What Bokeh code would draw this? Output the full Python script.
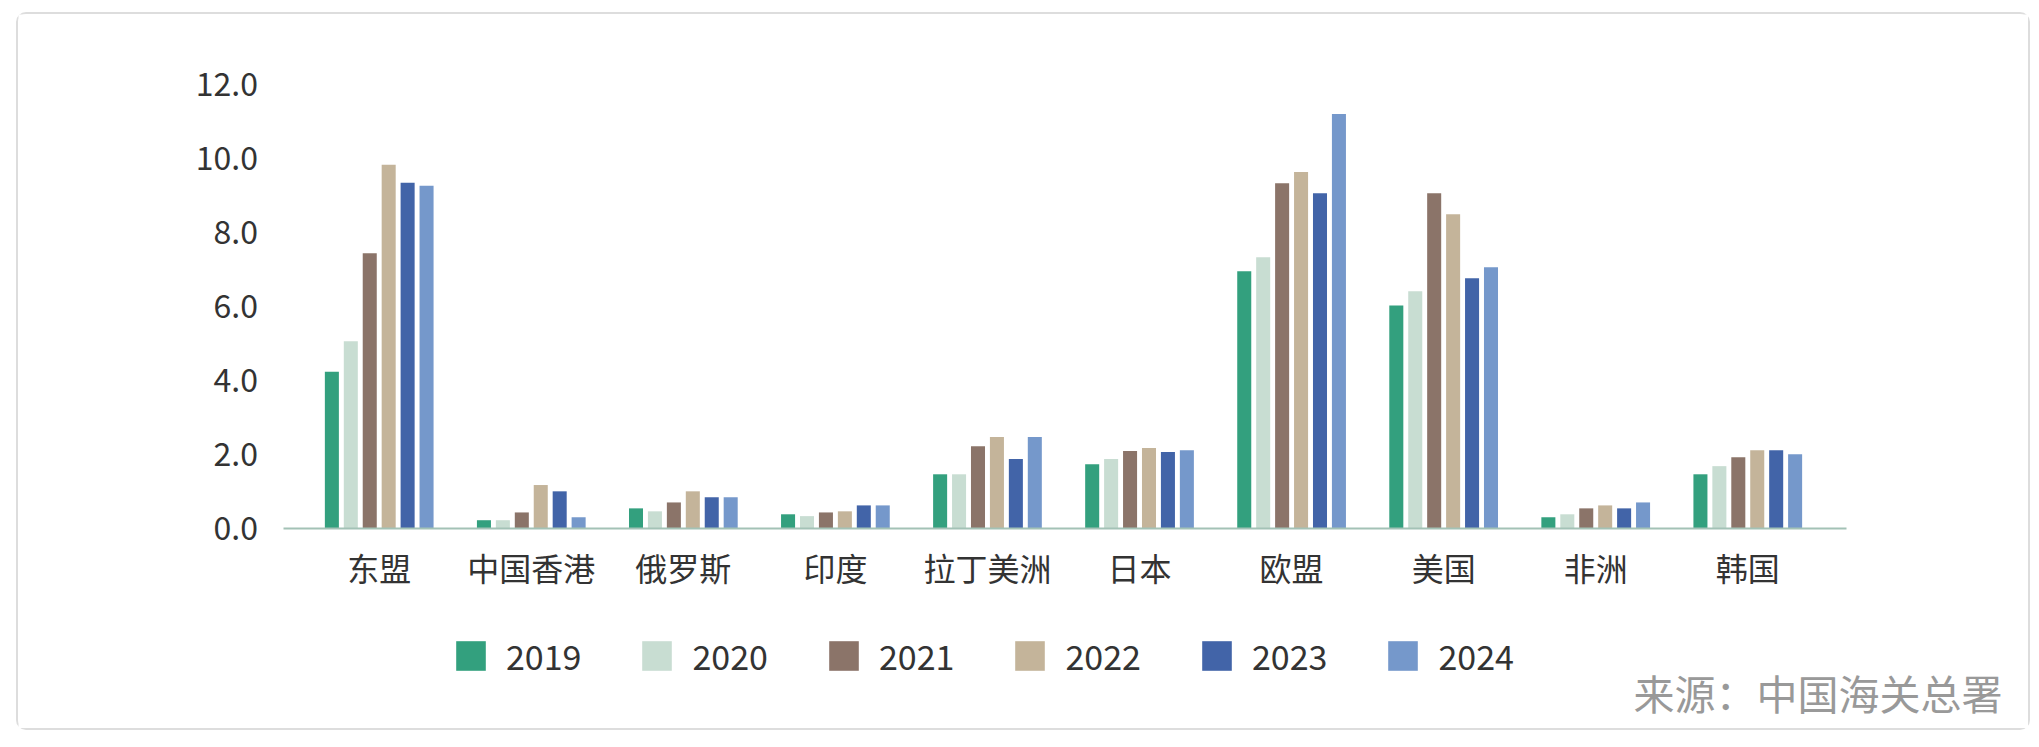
from bokeh.plotting import figure
from bokeh.models import (ColumnDataSource, Range1d, FixedTicker, PrintfTickFormatter,
                          Legend, LegendItem, Label, Spacer)
from bokeh.layouts import row, column
from bokeh.transform import dodge
from bokeh.embed import file_html
from bokeh.resources import INLINE

# ---- data ----
categories = ["东盟", "中国香港", "俄罗斯", "印度", "拉丁美洲", "日本", "欧盟", "美国", "非洲", "韩国"]
years = ["2019", "2020", "2021", "2022", "2023", "2024"]
v2019 = [4.23, 0.22, 0.54, 0.38, 1.46, 1.73, 6.94, 6.02, 0.30, 1.46]
v2020 = [5.05, 0.22, 0.46, 0.33, 1.46, 1.87, 7.32, 6.40, 0.38, 1.68]
v2021 = [7.43, 0.43, 0.70, 0.43, 2.22, 2.09, 9.32, 9.05, 0.54, 1.92]
v2022 = [9.82, 1.17, 1.00, 0.46, 2.47, 2.17, 9.62, 8.48, 0.62, 2.11]
v2023 = [9.33, 1.00, 0.84, 0.62, 1.87, 2.06, 9.05, 6.75, 0.54, 2.11]
v2024 = [9.25, 0.30, 0.84, 0.62, 2.47, 2.11, 11.19, 7.05, 0.70, 2.00]
y_ticks = [0, 2, 4, 6, 8, 10, 12]
source_text = "来源：中国海关总署"

colors = ["#33a07e", "#c8ddd2", "#8b7469", "#c4b49a", "#4264a8", "#7598cb"]
series = [v2019, v2020, v2021, v2022, v2023, v2024]

FONT = "Noto Sans CJK SC"

src = ColumnDataSource(dict(idx=list(range(len(categories))),
                            **{y: s for y, s in zip(years, series)}))

# canvas 2010 x 714 inside a 2px rounded card border
GROUP_PX = 151.76          # pixels per category
X0_PX = 360.0              # pixel of first category centre
PX_PER_UNIT = 36.83        # pixels per 1.0 on y
Y0_PX = 511.0              # pixel of y = 0
CW, CH = 2010, 714

x_start = -X0_PX / GROUP_PX
x_end = (CW - X0_PX) / GROUP_PX
y_end = Y0_PX / PX_PER_UNIT
y_start = -(CH - Y0_PX) / PX_PER_UNIT
axis_left = (264 - X0_PX) / GROUP_PX
axis_right = (1824 - X0_PX) / GROUP_PX

p = figure(width=CW + 4, height=CH + 4, output_backend="svg", toolbar_location=None,
           x_range=Range1d(x_start, x_end), y_range=Range1d(y_start, y_end),
           min_border=0, min_border_left=0, min_border_right=0,
           min_border_top=0, min_border_bottom=0,
           styles={"border": "2px solid #dddddd", "border-radius": "10px"})
p.background_fill_color = "white"
p.border_fill_color = "white"
p.outline_line_color = None
p.xgrid.grid_line_color = None
p.ygrid.grid_line_color = None

step = 18.9 / GROUP_PX
bw = 14.0 / GROUP_PX
renderers = []
for j, (yr, col) in enumerate(zip(years, colors)):
    r = p.vbar(x=dodge("idx", (j - 2.5) * step, range=p.x_range), top=yr, bottom=0,
               width=bw, source=src, fill_color=col, line_color=None)
    renderers.append(r)

# x axis (placed at y = 0)
xa = p.xaxis[0]
xa.fixed_location = 0
xa.bounds = (axis_left, axis_right)
xa.ticker = FixedTicker(ticks=list(range(len(categories))))
xa.major_label_overrides = {i: c for i, c in enumerate(categories)}
xa.axis_line_color = "#a3c2b6"
xa.axis_line_width = 2
xa.major_tick_line_color = None
xa.minor_tick_line_color = None
xa.major_tick_out = 0
xa.major_tick_in = 0
xa.minor_tick_out = 0
xa.major_label_standoff = 16
xa.major_label_text_font = FONT
xa.major_label_text_font_size = "32px"
xa.major_label_text_color = "#333333"

# y axis (placed at left end of x axis)
ya = p.yaxis[0]
ya.fixed_location = axis_left
ya.ticker = FixedTicker(ticks=y_ticks)
ya.formatter = PrintfTickFormatter(format="%.1f")
ya.axis_line_color = None
ya.major_tick_line_color = None
ya.minor_tick_line_color = None
ya.major_tick_out = 0
ya.major_tick_in = 0
ya.minor_tick_out = 0
ya.major_label_standoff = 25
ya.major_label_text_font = FONT
ya.major_label_text_font_size = "32px"
ya.major_label_text_color = "#333333"

legend = Legend(items=[LegendItem(label=yr, renderers=[r]) for yr, r in zip(years, renderers)],
                orientation="horizontal", location=(434, 52),
                glyph_width=37, glyph_height=37, label_standoff=17, spacing=57,
                padding=0, margin=0, border_line_color=None, background_fill_alpha=0,
                label_text_font=FONT, label_text_font_size="34px",
                label_text_color="#333333")
p.add_layout(legend, "center")

lab = Label(x=1984, y=41, x_units="screen", y_units="screen", text=source_text,
            text_align="right", text_baseline="middle", text_font=FONT,
            text_font_size="41px", text_color="#999999")
p.add_layout(lab)

layout = row(Spacer(width=16), column(Spacer(height=12), p))
open("out.html", "w").write(file_html(layout, INLINE))
